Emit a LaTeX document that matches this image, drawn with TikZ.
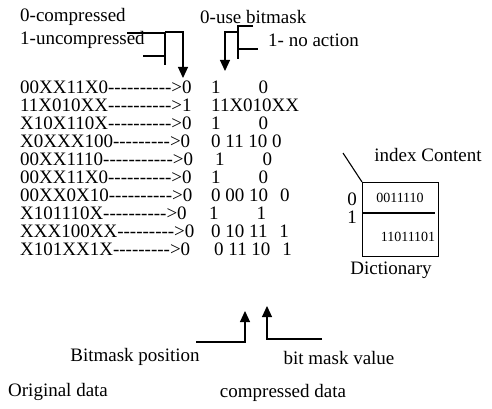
\documentclass[tikz,border=0pt]{standalone}
\usepackage{fontspec}
\setmainfont{Liberation Serif}[Ligatures=TeXOff]
\usetikzlibrary{arrows.meta}

\begin{document}
\begin{tikzpicture}[x=1pt, y=-1pt,
    txt/.style ={font=\fontsize{19}{19}\selectfont, inner sep=0pt},
    small/.style ={font=\fontsize{14}{14}\selectfont, inner sep=0pt},
    line/.style ={draw, line width=1.1pt},
    pointer/.style ={-{Triangle[length=11pt, width=10pt]}}]
   \useasboundingbox (0,0) rectangle (492,409);

   % legend at the top
   \node[txt, anchor=west] (cmp0) at (20,17) {0-compressed};
   \node[txt, anchor=west] (cmp1) at (20,40) {1-uncompressed};
   \node[txt, anchor=west] (bm0)  at (200,17) {0-use bitmask};
   \node[txt, anchor=west] (bm1)  at (268,40) {1- no action};

   % original data with flag
   \node[txt, anchor=west] (o1)  at (20,87)  {00XX11X0---------->0};
   \node[txt, anchor=west] (o2)  at (20,105) {11X010XX---------->1};
   \node[txt, anchor=west] (o3)  at (20,123) {X10X110X---------->0};
   \node[txt, anchor=west] (o4)  at (20,141) {X0XXX100--------->0};
   \node[txt, anchor=west] (o5)  at (20,159) {00XX1110----------->0};
   \node[txt, anchor=west] (o6)  at (20,177) {00XX11X0---------->0};
   \node[txt, anchor=west] (o7)  at (20,195) {00XX0X10---------->0};
   \node[txt, anchor=west] (o8)  at (20,213) {X101110X---------->0};
   \node[txt, anchor=west] (o9)  at (20,231) {XXX100XX--------->0};
   \node[txt, anchor=west] (o10) at (20,249) {X101XX1X--------->0};

   % compressed data
   \node[txt, anchor=west] (c1)  at (211,87)  {1\hspace{38pt}0};
   \node[txt, anchor=west] (c2)  at (211,105) {11X010XX};
   \node[txt, anchor=west] (c3)  at (211,123) {1\hspace{38pt}0};
   \node[txt, anchor=west] (c4)  at (211,141) {0 11 10 0};
   \node[txt, anchor=west] (c5)  at (215,159) {1\hspace{38pt}0};
   \node[txt, anchor=west] (c6)  at (211,177) {1\hspace{38pt}0};
   \node[txt, anchor=west] (c7)  at (211,195) {0 00 10\hspace{12pt}0};
   \node[txt, anchor=west] (c8)  at (209,213) {1\hspace{38pt}1};
   \node[txt, anchor=west] (c9)  at (211,231) {0 10 11\hspace{12pt}1};
   \node[txt, anchor=west] (c10) at (214,249) {0 11 10\hspace{12pt}1};

   % dictionary
   \node[line, minimum width=76pt, minimum height=74pt, inner sep=0pt,
         anchor=north west] (dict) at (362,182) {};
   \draw[line] (dict.west |- 0,213) -- (435,213);
   \coordinate (idxend) at (343,153);
   \draw[line] (idxend) -- (dict.north west);
   \node[txt] (idx) at (428,155) {index Content};
   \node[txt] (i0) at (352,199) {0};
   \node[txt] (i1) at (352,217) {1};
   \node[small] (e0) at (400,198) {0011110};
   \node[small] (e1) at (408,237) {11011101};
   \node[txt] (dname) at (391,270) {Dictionary};

   % brackets and arrows at the top
   \coordinate (flagtop) at (183,78);
   \coordinate (bittop) at (225,71);
   \draw[line] (127,33) -- (165,33) (143,56) -- (165,56) (165,33) -- (165,65);
   \draw[line, pointer] (165,32) -| (flagtop);
   \draw[line] (253,26) -- (238,26) -- (238,59) (238,49) -- (258,49);
   \draw[line, pointer] (238,32) -| (bittop);

   % arrows at the bottom
   \coordinate (posend) at (245,311);
   \coordinate (valend) at (267,306);
   \draw[line, pointer] (196,342) -| (posend);
   \draw[line, pointer] (322,339) -| (valend);

   \node[txt] (bpos) at (135,357) {Bitmask position};
   \node[txt] (bval) at (339,358) {bit mask value};
   \node[txt, anchor=west] (orig) at (8,392) {Original data};
   \node[txt] (comp) at (283,393) {compressed data};
 \end{tikzpicture}
\end{document}
